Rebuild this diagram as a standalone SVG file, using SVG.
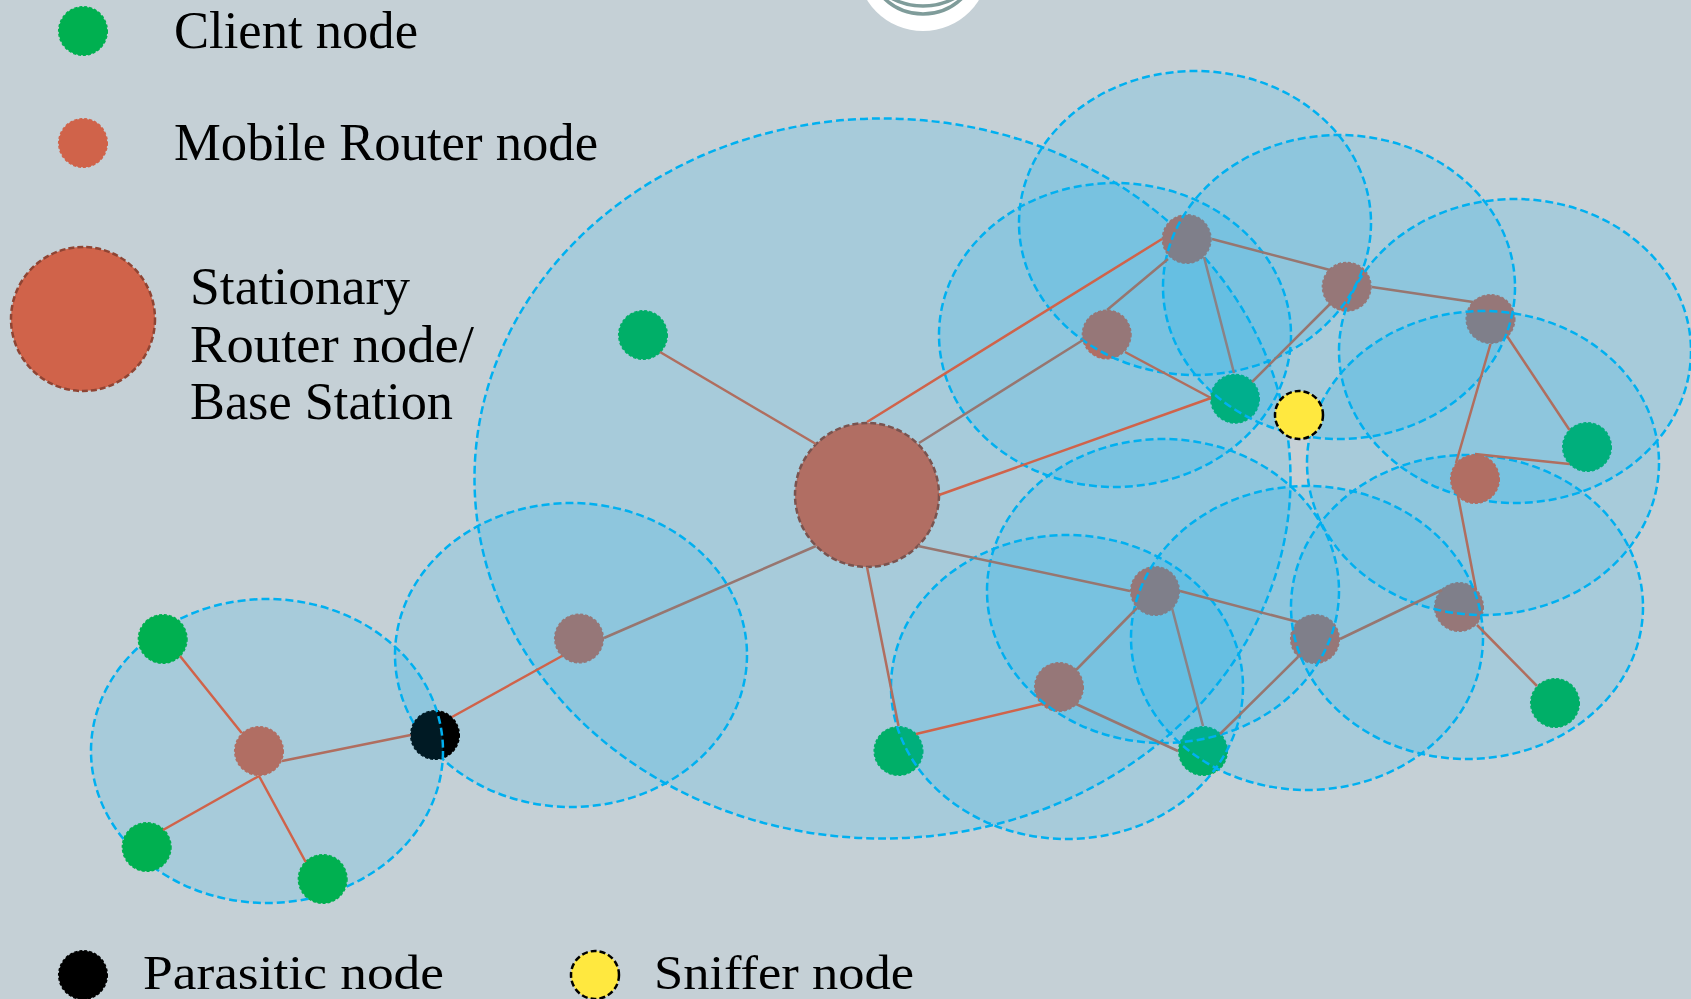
<svg xmlns="http://www.w3.org/2000/svg" width="1691" height="999" viewBox="0 0 1691 999">
<style>
.zone{fill:#00b0f0;fill-opacity:.15;stroke:#00b0f0;stroke-width:2.5;stroke-dasharray:8 4}
.edge{stroke-width:2.5;fill:none}
.e0{stroke:#d0634a}
.e1{stroke:#b06e5f}
.e2{stroke:#977670}
.e3{stroke:#8a8286}
.c{fill:#00b050;stroke:#00b050;stroke-width:1.5;stroke-dasharray:3 2}
.r{fill:#d0634a;stroke:#d0634a;stroke-width:1.5;stroke-dasharray:3 2}
.s{fill:#d0634a;stroke:#8f4433;stroke-width:2.5;stroke-dasharray:6 3}
.p{fill:#000;stroke:#000;stroke-width:1.5;stroke-dasharray:3 2}
.y{fill:#ffe83f;stroke:#000;stroke-width:2.5;stroke-dasharray:6 3}
text{font-family:"Liberation Serif",Georgia,serif;font-size:52px;fill:#000}
text.low{font-size:48px}
</style>
<rect width="1691" height="999" fill="#c5d0d6"/>
<g id="logo"><circle cx="923" cy="-35" r="66" fill="#fff"/><circle cx="923" cy="-42" r="56" fill="none" stroke="#7f9c9a" stroke-width="3.5"/><circle cx="923" cy="-60" r="66" fill="none" stroke="#7f9c9a" stroke-width="3.5"/></g>
<g id="legend-client"><circle class="c" cx="83" cy="31" r="24.3"/><text x="174" y="48" textLength="244" lengthAdjust="spacingAndGlyphs">Client node</text></g>
<g id="legend-mobile"><circle class="r" cx="83" cy="143" r="24.3"/><text x="174" y="160" textLength="424" lengthAdjust="spacingAndGlyphs">Mobile Router node</text></g>
<g id="legend-stationary"><circle class="s" cx="83" cy="319" r="72"/><text x="190" y="304" textLength="220" lengthAdjust="spacingAndGlyphs">Stationary</text><text x="190" y="362" textLength="284" lengthAdjust="spacingAndGlyphs">Router node/</text><text x="190" y="419" textLength="263" lengthAdjust="spacingAndGlyphs">Base Station</text></g>
<g id="legend-parasitic"><circle class="p" cx="83" cy="975" r="24.3"/><text class="low" x="143" y="988.5" textLength="301" lengthAdjust="spacingAndGlyphs">Parasitic node</text></g>
<g id="legend-sniffer"><circle class="y" cx="595" cy="975" r="24"/><text class="low" x="654" y="988.5" textLength="260" lengthAdjust="spacingAndGlyphs">Sniffer node</text></g>
<g id="node-c1"><circle class="c" cx="643" cy="335" r="24.3"/></g>
<g id="node-c2"><circle class="c" cx="1235" cy="398.7" r="24.3"/></g>
<g id="node-c3"><circle class="c" cx="1587" cy="447" r="24.3"/></g>
<g id="node-c4"><circle class="c" cx="1555" cy="703" r="24.3"/></g>
<g id="node-c5"><circle class="c" cx="898.5" cy="751" r="24.3"/></g>
<g id="node-c6"><circle class="c" cx="1203" cy="751" r="24.3"/></g>
<g id="node-r3"><circle class="r" cx="1346.7" cy="286.7" r="24.3"/></g>
<g id="node-r4"><circle class="r" cx="1490.5" cy="319" r="24.3"/></g>
<g id="node-r7"><circle class="r" cx="1315" cy="639" r="24.3"/></g>
<g id="node-r8"><circle class="r" cx="1459" cy="607" r="24.3"/></g>
<g id="node-r10"><circle class="r" cx="579" cy="638.5" r="24.3"/></g>
<g id="node-r11"><circle class="r" cx="259" cy="751" r="24.3"/></g>
<g id="node-base"><circle class="s" cx="867" cy="495" r="72"/></g>
<ellipse id="zone-main" class="zone" cx="882.5" cy="478.5" rx="408" ry="360"/>
<g id="node-r1"><circle class="r" cx="1186.7" cy="239" r="24.3"/></g>
<g id="node-r2"><circle class="r" cx="1106.7" cy="334.5" r="24.3"/></g>
<g id="node-r6"><circle class="r" cx="1155" cy="591" r="24.3"/></g>
<g id="node-r9"><circle class="r" cx="1059" cy="687" r="24.3"/></g>
<ellipse id="zone-b" class="zone" cx="571" cy="655" rx="176" ry="152"/>
<g id="node-parasitic"><circle class="p" cx="435" cy="735" r="24.3"/></g>
<ellipse id="zone-a" class="zone" cx="267" cy="751" rx="176" ry="152"/>
<g id="node-c7"><circle class="c" cx="162.7" cy="639" r="24.3"/></g>
<g id="node-c8"><circle class="c" cx="146.7" cy="847" r="24.3"/></g>
<g id="node-c9"><circle class="c" cx="322.7" cy="879" r="24.3"/></g>
<ellipse id="zone-c" class="zone" cx="1195" cy="223" rx="176" ry="152"/>
<ellipse id="zone-d" class="zone" cx="1115" cy="335" rx="176" ry="152"/>
<ellipse id="zone-e" class="zone" cx="1339" cy="287" rx="176" ry="152"/>
<ellipse id="zone-f" class="zone" cx="1515" cy="351" rx="176" ry="152"/>
<ellipse id="zone-h" class="zone" cx="1163" cy="591" rx="176" ry="152"/>
<ellipse id="zone-i" class="zone" cx="1067" cy="687" rx="176" ry="152"/>
<ellipse id="zone-j" class="zone" cx="1307" cy="638" rx="176" ry="152"/>
<ellipse id="zone-k" class="zone" cx="1467" cy="607" rx="176" ry="152"/>
<g id="node-r5"><circle class="r" cx="1475" cy="479" r="24.3"/></g>
<ellipse id="zone-g" class="zone" cx="1483" cy="463" rx="176" ry="152"/>
<g id="connectors">
<path class="edge e0" d="M867 422L1162 239M939 495L1211 398M1042 704L916 734M562 656L452 717M241.7 733L180 656M259 776L163 830M259 776L305.7 862"/>
<path class="edge e1" d="M660 352L816 444M867 567L898.5 726M1125 352L1211 398M1456 463L1490.5 344M1507 336L1569.5 430M1475 454L1569.5 464M1458 496L1476 590M1477 625L1537 686M410.7 735L282 761"/>
<path class="edge e2" d="M919 443L1083 340M816 546L604 638M918 546L1130 591M1168 259L1107 310M1212 239L1330 270M1330 304L1252 382M1372 287L1473 302M1180 591L1298 622M1340 639L1442 590M1137 608L1076 670M1220 734L1298 657M1076 704L1178 751"/>
<path class="edge e3" d="M1204 257L1234 373M1172 608L1203 726"/>
</g>
<g id="node-sniffer"><circle class="y" cx="1299" cy="415" r="24"/></g>
</svg>
